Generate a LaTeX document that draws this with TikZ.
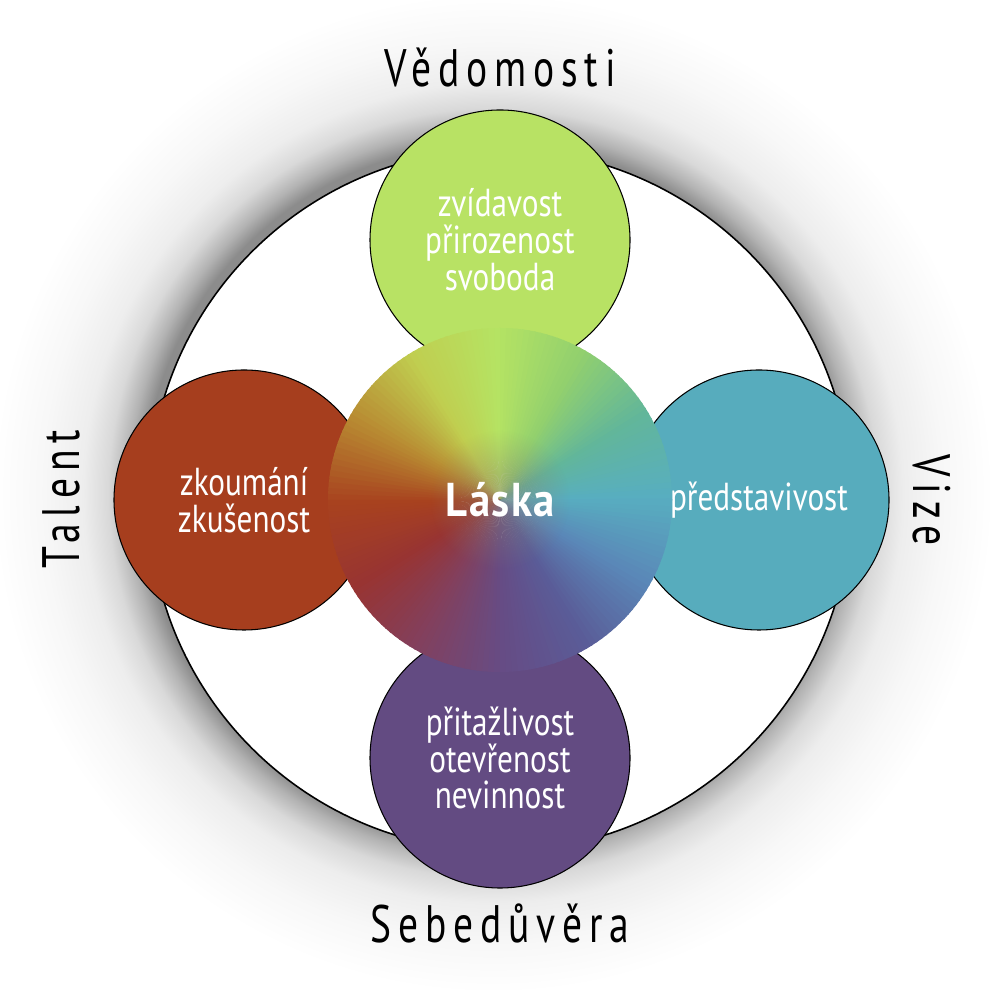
\documentclass[tikz,border=0pt]{standalone}
\usepackage{fontspec}
\setmainfont{PT Sans}[FakeStretch=0.8]
\newfontfamily\labelfont{PT Sans}[FakeStretch=0.75,LetterSpace=13]
\newfontfamily\lovefont{PT Sans}[FakeStretch=0.9,LetterSpace=3]
\usetikzlibrary{fadings}

\definecolor{knowgreen}{HTML}{B8E264}
\definecolor{talentrust}{HTML}{A63E1E}
\definecolor{visionteal}{HTML}{57ACBD}
\definecolor{trustpurple}{HTML}{634B82}
\definecolor{hubgrey}{HTML}{8A7E72}
% colour wheel of the centre, every 30 degrees
\definecolor{w0}{HTML}{58AEC0}
\definecolor{w1}{HTML}{62B69A}
\definecolor{w2}{HTML}{92D06E}
\definecolor{w3}{HTML}{B5E363}
\definecolor{w4}{HTML}{C0CE50}
\definecolor{w5}{HTML}{B88A32}
\definecolor{w6}{HTML}{A8421F}
\definecolor{w7}{HTML}{983432}
\definecolor{w8}{HTML}{82405E}
\definecolor{w9}{HTML}{664C85}
\definecolor{w10}{HTML}{5A5C98}
\definecolor{w11}{HTML}{5A88B8}
\definecolor{w12}{HTML}{58AEC0}

\pgfdeclareradialshading{halo}{\pgfpoint{0bp}{0bp}}{color(0bp)=(black!45); color(17.5bp)=(black!45); color(18.25bp)=(black!30); color(19.25bp)=(black!15); color(20.5bp)=(black!7); color(22.5bp)=(black!3); color(25bp)=(white); color(50bp)=(white)}
\tikzfading[name=hub, inner color=transparent!45, outer color=transparent!100]

\begin{document}
\begin{tikzpicture}
  \useasboundingbox (-5,-5) rectangle (5,5);
  \fill[white] (-5,-5) rectangle (5,5);
  \clip (-5,-5) rectangle (5,5);
  \shade[shading=halo] (-0.07,0.07) circle (5);
  \draw[fill=white, line width=0.45pt] (0,0) circle (3.51);

  \begin{scope}[every node/.style={circle, draw, line width=0.3pt, minimum size=2.6cm, inner sep=0pt, align=center, text=white, font=\fontsize{11.1}{10.5}\selectfont}]
    \node [fill=knowgreen] (know) at (0,2.6) {zvídavost\\přirozenost\\svoboda};
    \node [fill=talentrust] (talent) at (-2.56,0) {zkoumání\\zkušenost};
    \node [fill=visionteal] (vision) at (2.59,0) {představivost};
    \node [fill=trustpurple] (trust) at (0,-2.58) {přitažlivost\\otevřenost\\nevinnost};
  \end{scope}

  \node [circle, minimum size=3.44cm, inner sep=0pt, text=white,
    font=\lovefont\bfseries\fontsize{13.5}{14}\selectfont,
    path picture={
      \coordinate (pc) at (path picture bounding box.center);
      \foreach \a in {0,2,...,358}{
        \pgfmathtruncatemacro{\wa}{\a/30}
        \pgfmathtruncatemacro{\wb}{\wa+1}
        \pgfmathtruncatemacro{\wt}{100*(\a-30*\wa)/30}
        \colorlet{wedge}{w\wb!\wt!w\wa}
        \fill[wedge] (pc) -- ++(\a:1.9) arc[start angle=\a, end angle=\a+2.6, radius=1.9] -- cycle;
      }
      \fill[hubgrey, path fading=hub] (pc) circle (0.7);
    }] (love) at (0,0) {Láska};

  \begin{scope}[every node/.style={anchor=base, inner sep=0pt, font=\labelfont\fontsize{15}{18}\selectfont}]
    \node (vedomosti) at (0,4.13) {Vědomosti};
    \node (sebeduvera) at (0,-4.42) {Sebedůvěra};
    \node [rotate=90] (talentlabel) at (-4.20,0.01) {Talent};
    \node [rotate=-90] (vize) at (4.13,0) {Vize};
  \end{scope}
\end{tikzpicture}
\end{document}
